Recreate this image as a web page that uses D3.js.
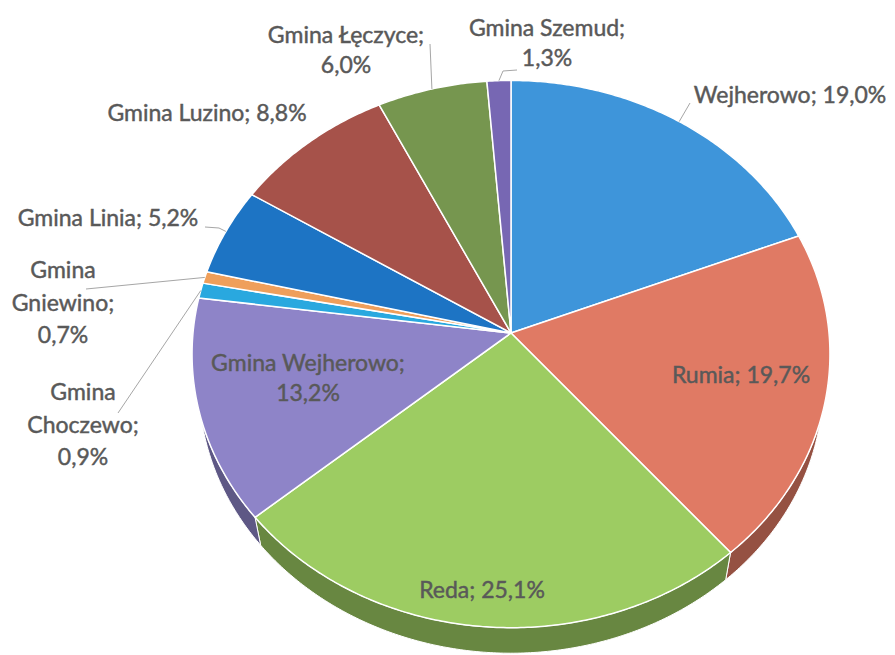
<!DOCTYPE html>
<html>
<head>
<meta charset="utf-8">
<script src="https://cdn.jsdelivr.net/npm/d3@7"></script>
<style>
  body { margin: 0; background: #fff; }
  svg { display: block; }
  .label { font-family: Lato, 'Open Sans', sans-serif; font-size: 23px; fill: #595959;
    stroke: #595959; stroke-width: 0.45; }
  .leader { fill: none; stroke: #a6a6a6; stroke-width: 1; }
</style>
</head>
<body>
<svg class="chart"></svg>
<script>
// shares of the county, clockwise from 12 o'clock
const categories = ['Wejherowo', 'Rumia', 'Reda', 'Gmina Wejherowo', 'Gmina Choczewo',
  'Gmina Gniewino', 'Gmina Linia', 'Gmina Luzino', 'Gmina Łęczyce', 'Gmina Szemud'];
const shares = [19.0, 19.7, 25.1, 13.2, 0.9, 0.7, 5.2, 8.8, 6.0, 1.3];
const colors = ['#3e95da', '#e07a64', '#9dcc62', '#8e84c8', '#29a8df',
  '#ef9f5b', '#1d74c4', '#a6524a', '#76964f', '#7767b3'];

const viewBox = { width: 895, height: 655 };
// tilted pie: ellipse with a bit of perspective, side wall below it
const geo = { cx: 511, cy: 333, rx: 318, ry: 272, persp: 0.077, depth: 32, shrink: 0.978 };

// where Excel placed each data label (wrap = number of text lines)
const labelLayout = [
  { x: 790, y: 95, wrap: 1, leader: [[690, 103]] },
  { x: 741, y: 375, wrap: 1 },
  { x: 482, y: 590, wrap: 1 },
  { x: 308, y: 363, wrap: 2 },
  { x: 83, y: 392, wrap: 3, leader: [[118, 413]] },
  { x: 63, y: 270, wrap: 3, leader: [[86, 289]] },
  { x: 108, y: 218, wrap: 1, leader: [[205, 227], [219, 228]] },
  { x: 207, y: 113, wrap: 1 },
  { x: 346, y: 35, wrap: 2, leader: [[430, 44]] },
  { x: 547, y: 28, wrap: 2, leader: [[517, 70], [503, 71]] },
];

const plLocale = d3.formatLocale({ decimal: ',', thousands: ' ', grouping: [3], currency: ['', ' zł'] });
const pct = v => `${plLocale.format('.1f')(v)}%`;

const project = (angle, bottom = false) => {
  const k = 1 + geo.persp * Math.cos(angle);
  const dx = geo.rx * Math.sin(angle) / k;
  const dy = -geo.ry * Math.cos(angle) / k;
  if (bottom) return [geo.cx + dx * geo.shrink, geo.cy + geo.depth + dy * geo.shrink];
  return [geo.cx + dx, geo.cy + dy];
};

const arcPoints = (a0, a1, bottom) => {
  const n = Math.max(2, Math.ceil((a1 - a0) / 0.01));
  return d3.range(n + 1).map(i => project(a0 + (a1 - a0) * i / n, bottom));
};

const labelLines = (name, value, wrap) => {
  if (wrap === 1) return [`${name}; ${pct(value)}`];
  if (wrap === 2) return [`${name};`, pct(value)];
  const words = name.split(' ');
  words[words.length - 1] += ';';
  return [...words, pct(value)];
};

const svg = d3.select('.chart')
  .attr('width', viewBox.width)
  .attr('height', viewBox.height)
  .attr('viewBox', `0 0 ${viewBox.width} ${viewBox.height}`);

const pie = d3.pie().sort(null).value(d => d).startAngle(0).endAngle(2 * Math.PI);
const slices = pie(shares).map((s, i) => ({ ...s, name: categories[i], color: colors[i] }));
const polygon = d3.line().curve(d3.curveLinearClosed);

// side wall first, the top faces cover whatever is behind
svg.append('g').selectAll('path')
  .data(slices)
  .join('path')
  .attr('d', d => polygon([...arcPoints(d.startAngle, d.endAngle, false),
    ...arcPoints(d.startAngle, d.endAngle, true).reverse()]))
  .attr('fill', d => d3.color(d.color).darker(1.15))
  .attr('stroke', '#fff')
  .attr('stroke-width', 1);

svg.append('g').selectAll('path')
  .data(slices)
  .join('path')
  .attr('d', d => polygon([[geo.cx, geo.cy], ...arcPoints(d.startAngle, d.endAngle, false)]))
  .attr('fill', d => d.color)
  .attr('stroke', '#fff')
  .attr('stroke-width', 1.5)
  .attr('stroke-linejoin', 'round');

// leader lines for the labels outside the pie
svg.append('g').selectAll('path')
  .data(slices.filter((d, i) => labelLayout[i].leader))
  .join('path')
  .attr('class', 'leader')
  .attr('d', d => d3.line()([...labelLayout[d.index].leader,
    project((d.startAngle + d.endAngle) / 2)]));

const labels = svg.append('g').selectAll('text')
  .data(slices)
  .join('text')
  .attr('class', 'label')
  .attr('text-anchor', 'middle');

labels.each(function (d) {
  const { x, y, wrap } = labelLayout[d.index];
  d3.select(this).selectAll('tspan')
    .data(labelLines(d.name, d.value, wrap))
    .join('tspan')
    .attr('x', x)
    .attr('y', (t, j) => y + j * (wrap === 3 ? 32.5 : 29.5))
    .attr('dy', '0.35em')
    .text(t => t);
});
</script>
</body>
</html>
